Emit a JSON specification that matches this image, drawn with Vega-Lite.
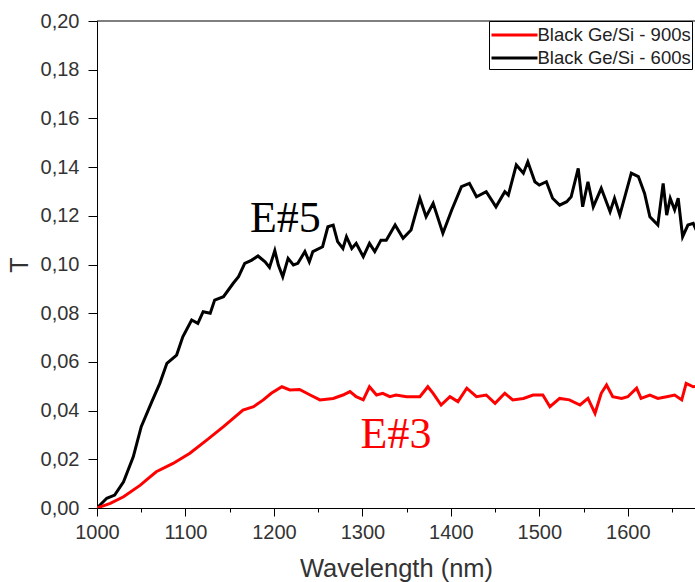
{
  "$schema": "https://vega.github.io/schema/vega-lite/v6.json",
  "width": 598,
  "height": 487,
  "autosize": {"type": "none"},
  "padding": {"left": 97, "top": 21, "right": 0, "bottom": 74},
  "background": "white",
  "config": {"view": {"stroke": null}, "font": "Liberation Sans"},
  "datasets": {
    "curves": [
      {"series": "Black Ge/Si - 600s", "wl": 1000, "T": 0},
      {"series": "Black Ge/Si - 600s", "wl": 1011, "T": 0.004},
      {"series": "Black Ge/Si - 600s", "wl": 1020, "T": 0.0053},
      {"series": "Black Ge/Si - 600s", "wl": 1030, "T": 0.0108},
      {"series": "Black Ge/Si - 600s", "wl": 1041, "T": 0.021},
      {"series": "Black Ge/Si - 600s", "wl": 1050, "T": 0.0334},
      {"series": "Black Ge/Si - 600s", "wl": 1062, "T": 0.0437},
      {"series": "Black Ge/Si - 600s", "wl": 1071, "T": 0.0512},
      {"series": "Black Ge/Si - 600s", "wl": 1079, "T": 0.0594},
      {"series": "Black Ge/Si - 600s", "wl": 1090, "T": 0.0628},
      {"series": "Black Ge/Si - 600s", "wl": 1097, "T": 0.0703},
      {"series": "Black Ge/Si - 600s", "wl": 1107, "T": 0.0772},
      {"series": "Black Ge/Si - 600s", "wl": 1114, "T": 0.0758},
      {"series": "Black Ge/Si - 600s", "wl": 1120, "T": 0.0806},
      {"series": "Black Ge/Si - 600s", "wl": 1128, "T": 0.08},
      {"series": "Black Ge/Si - 600s", "wl": 1133, "T": 0.0854},
      {"series": "Black Ge/Si - 600s", "wl": 1143, "T": 0.0868},
      {"series": "Black Ge/Si - 600s", "wl": 1154, "T": 0.0923},
      {"series": "Black Ge/Si - 600s", "wl": 1160, "T": 0.095},
      {"series": "Black Ge/Si - 600s", "wl": 1167, "T": 0.1005},
      {"series": "Black Ge/Si - 600s", "wl": 1175, "T": 0.1018},
      {"series": "Black Ge/Si - 600s", "wl": 1182, "T": 0.1035},
      {"series": "Black Ge/Si - 600s", "wl": 1190, "T": 0.1011},
      {"series": "Black Ge/Si - 600s", "wl": 1195, "T": 0.0988},
      {"series": "Black Ge/Si - 600s", "wl": 1201, "T": 0.1057},
      {"series": "Black Ge/Si - 600s", "wl": 1205, "T": 0.0998},
      {"series": "Black Ge/Si - 600s", "wl": 1210, "T": 0.095},
      {"series": "Black Ge/Si - 600s", "wl": 1216, "T": 0.1025},
      {"series": "Black Ge/Si - 600s", "wl": 1222, "T": 0.0998},
      {"series": "Black Ge/Si - 600s", "wl": 1227, "T": 0.1005},
      {"series": "Black Ge/Si - 600s", "wl": 1235, "T": 0.1053},
      {"series": "Black Ge/Si - 600s", "wl": 1240, "T": 0.1011},
      {"series": "Black Ge/Si - 600s", "wl": 1244, "T": 0.1053},
      {"series": "Black Ge/Si - 600s", "wl": 1255, "T": 0.1073},
      {"series": "Black Ge/Si - 600s", "wl": 1261, "T": 0.1155},
      {"series": "Black Ge/Si - 600s", "wl": 1267, "T": 0.1162},
      {"series": "Black Ge/Si - 600s", "wl": 1272, "T": 0.1094},
      {"series": "Black Ge/Si - 600s", "wl": 1278, "T": 0.1066},
      {"series": "Black Ge/Si - 600s", "wl": 1282, "T": 0.1114},
      {"series": "Black Ge/Si - 600s", "wl": 1288, "T": 0.1066},
      {"series": "Black Ge/Si - 600s", "wl": 1293, "T": 0.1087},
      {"series": "Black Ge/Si - 600s", "wl": 1301, "T": 0.1032},
      {"series": "Black Ge/Si - 600s", "wl": 1308, "T": 0.1087},
      {"series": "Black Ge/Si - 600s", "wl": 1314, "T": 0.1053},
      {"series": "Black Ge/Si - 600s", "wl": 1321, "T": 0.11},
      {"series": "Black Ge/Si - 600s", "wl": 1327, "T": 0.11},
      {"series": "Black Ge/Si - 600s", "wl": 1337, "T": 0.1162},
      {"series": "Black Ge/Si - 600s", "wl": 1346, "T": 0.1108},
      {"series": "Black Ge/Si - 600s", "wl": 1355, "T": 0.1142},
      {"series": "Black Ge/Si - 600s", "wl": 1365, "T": 0.1272},
      {"series": "Black Ge/Si - 600s", "wl": 1372, "T": 0.1196},
      {"series": "Black Ge/Si - 600s", "wl": 1380, "T": 0.1251},
      {"series": "Black Ge/Si - 600s", "wl": 1391, "T": 0.1128},
      {"series": "Black Ge/Si - 600s", "wl": 1401, "T": 0.1224},
      {"series": "Black Ge/Si - 600s", "wl": 1412, "T": 0.132},
      {"series": "Black Ge/Si - 600s", "wl": 1421, "T": 0.1333},
      {"series": "Black Ge/Si - 600s", "wl": 1429, "T": 0.1278},
      {"series": "Black Ge/Si - 600s", "wl": 1440, "T": 0.1299},
      {"series": "Black Ge/Si - 600s", "wl": 1451, "T": 0.1237},
      {"series": "Black Ge/Si - 600s", "wl": 1461, "T": 0.1299},
      {"series": "Black Ge/Si - 600s", "wl": 1465, "T": 0.1285},
      {"series": "Black Ge/Si - 600s", "wl": 1474, "T": 0.1409},
      {"series": "Black Ge/Si - 600s", "wl": 1482, "T": 0.1375},
      {"series": "Black Ge/Si - 600s", "wl": 1487, "T": 0.1422},
      {"series": "Black Ge/Si - 600s", "wl": 1495, "T": 0.134},
      {"series": "Black Ge/Si - 600s", "wl": 1500, "T": 0.1326},
      {"series": "Black Ge/Si - 600s", "wl": 1508, "T": 0.134},
      {"series": "Black Ge/Si - 600s", "wl": 1515, "T": 0.1272},
      {"series": "Black Ge/Si - 600s", "wl": 1523, "T": 0.1244},
      {"series": "Black Ge/Si - 600s", "wl": 1531, "T": 0.1258},
      {"series": "Black Ge/Si - 600s", "wl": 1536, "T": 0.1278},
      {"series": "Black Ge/Si - 600s", "wl": 1544, "T": 0.1395},
      {"series": "Black Ge/Si - 600s", "wl": 1549, "T": 0.1237},
      {"series": "Black Ge/Si - 600s", "wl": 1555, "T": 0.134},
      {"series": "Black Ge/Si - 600s", "wl": 1561, "T": 0.1237},
      {"series": "Black Ge/Si - 600s", "wl": 1570, "T": 0.1313},
      {"series": "Black Ge/Si - 600s", "wl": 1580, "T": 0.1217},
      {"series": "Black Ge/Si - 600s", "wl": 1585, "T": 0.1272},
      {"series": "Black Ge/Si - 600s", "wl": 1591, "T": 0.1203},
      {"series": "Black Ge/Si - 600s", "wl": 1604, "T": 0.1375},
      {"series": "Black Ge/Si - 600s", "wl": 1612, "T": 0.1361},
      {"series": "Black Ge/Si - 600s", "wl": 1619, "T": 0.1292},
      {"series": "Black Ge/Si - 600s", "wl": 1625, "T": 0.1196},
      {"series": "Black Ge/Si - 600s", "wl": 1634, "T": 0.1162},
      {"series": "Black Ge/Si - 600s", "wl": 1640, "T": 0.1333},
      {"series": "Black Ge/Si - 600s", "wl": 1644, "T": 0.1203},
      {"series": "Black Ge/Si - 600s", "wl": 1648, "T": 0.1272},
      {"series": "Black Ge/Si - 600s", "wl": 1653, "T": 0.1224},
      {"series": "Black Ge/Si - 600s", "wl": 1657, "T": 0.1272},
      {"series": "Black Ge/Si - 600s", "wl": 1662, "T": 0.1114},
      {"series": "Black Ge/Si - 600s", "wl": 1668, "T": 0.1162},
      {"series": "Black Ge/Si - 600s", "wl": 1674, "T": 0.1169},
      {"series": "Black Ge/Si - 600s", "wl": 1680, "T": 0.112},
      {"series": "Black Ge/Si - 900s", "wl": 1000, "T": 0},
      {"series": "Black Ge/Si - 900s", "wl": 1015, "T": 0.0019},
      {"series": "Black Ge/Si - 900s", "wl": 1030, "T": 0.0046},
      {"series": "Black Ge/Si - 900s", "wl": 1049, "T": 0.0094},
      {"series": "Black Ge/Si - 900s", "wl": 1058, "T": 0.0122},
      {"series": "Black Ge/Si - 900s", "wl": 1067, "T": 0.0149},
      {"series": "Black Ge/Si - 900s", "wl": 1086, "T": 0.0183},
      {"series": "Black Ge/Si - 900s", "wl": 1105, "T": 0.0225},
      {"series": "Black Ge/Si - 900s", "wl": 1124, "T": 0.0279},
      {"series": "Black Ge/Si - 900s", "wl": 1143, "T": 0.0334},
      {"series": "Black Ge/Si - 900s", "wl": 1154, "T": 0.0368},
      {"series": "Black Ge/Si - 900s", "wl": 1165, "T": 0.0402},
      {"series": "Black Ge/Si - 900s", "wl": 1177, "T": 0.0416},
      {"series": "Black Ge/Si - 900s", "wl": 1188, "T": 0.0444},
      {"series": "Black Ge/Si - 900s", "wl": 1197, "T": 0.0471},
      {"series": "Black Ge/Si - 900s", "wl": 1209, "T": 0.0498},
      {"series": "Black Ge/Si - 900s", "wl": 1218, "T": 0.0485},
      {"series": "Black Ge/Si - 900s", "wl": 1229, "T": 0.0487},
      {"series": "Black Ge/Si - 900s", "wl": 1241, "T": 0.0464},
      {"series": "Black Ge/Si - 900s", "wl": 1252, "T": 0.0444},
      {"series": "Black Ge/Si - 900s", "wl": 1267, "T": 0.045},
      {"series": "Black Ge/Si - 900s", "wl": 1278, "T": 0.0464},
      {"series": "Black Ge/Si - 900s", "wl": 1286, "T": 0.0478},
      {"series": "Black Ge/Si - 900s", "wl": 1293, "T": 0.0457},
      {"series": "Black Ge/Si - 900s", "wl": 1301, "T": 0.0444},
      {"series": "Black Ge/Si - 900s", "wl": 1308, "T": 0.0498},
      {"series": "Black Ge/Si - 900s", "wl": 1316, "T": 0.0464},
      {"series": "Black Ge/Si - 900s", "wl": 1323, "T": 0.0471},
      {"series": "Black Ge/Si - 900s", "wl": 1331, "T": 0.0457},
      {"series": "Black Ge/Si - 900s", "wl": 1338, "T": 0.0464},
      {"series": "Black Ge/Si - 900s", "wl": 1350, "T": 0.0457},
      {"series": "Black Ge/Si - 900s", "wl": 1365, "T": 0.0457},
      {"series": "Black Ge/Si - 900s", "wl": 1374, "T": 0.0498},
      {"series": "Black Ge/Si - 900s", "wl": 1380, "T": 0.0471},
      {"series": "Black Ge/Si - 900s", "wl": 1389, "T": 0.0423},
      {"series": "Black Ge/Si - 900s", "wl": 1399, "T": 0.0457},
      {"series": "Black Ge/Si - 900s", "wl": 1408, "T": 0.0437},
      {"series": "Black Ge/Si - 900s", "wl": 1418, "T": 0.0492},
      {"series": "Black Ge/Si - 900s", "wl": 1429, "T": 0.0457},
      {"series": "Black Ge/Si - 900s", "wl": 1440, "T": 0.0464},
      {"series": "Black Ge/Si - 900s", "wl": 1450, "T": 0.043},
      {"series": "Black Ge/Si - 900s", "wl": 1461, "T": 0.0471},
      {"series": "Black Ge/Si - 900s", "wl": 1470, "T": 0.0444},
      {"series": "Black Ge/Si - 900s", "wl": 1482, "T": 0.045},
      {"series": "Black Ge/Si - 900s", "wl": 1493, "T": 0.0464},
      {"series": "Black Ge/Si - 900s", "wl": 1504, "T": 0.0464},
      {"series": "Black Ge/Si - 900s", "wl": 1512, "T": 0.0416},
      {"series": "Black Ge/Si - 900s", "wl": 1523, "T": 0.045},
      {"series": "Black Ge/Si - 900s", "wl": 1534, "T": 0.0444},
      {"series": "Black Ge/Si - 900s", "wl": 1546, "T": 0.0423},
      {"series": "Black Ge/Si - 900s", "wl": 1555, "T": 0.045},
      {"series": "Black Ge/Si - 900s", "wl": 1563, "T": 0.0389},
      {"series": "Black Ge/Si - 900s", "wl": 1570, "T": 0.0471},
      {"series": "Black Ge/Si - 900s", "wl": 1576, "T": 0.0505},
      {"series": "Black Ge/Si - 900s", "wl": 1583, "T": 0.0457},
      {"series": "Black Ge/Si - 900s", "wl": 1593, "T": 0.045},
      {"series": "Black Ge/Si - 900s", "wl": 1600, "T": 0.0457},
      {"series": "Black Ge/Si - 900s", "wl": 1610, "T": 0.0492},
      {"series": "Black Ge/Si - 900s", "wl": 1615, "T": 0.045},
      {"series": "Black Ge/Si - 900s", "wl": 1625, "T": 0.0464},
      {"series": "Black Ge/Si - 900s", "wl": 1634, "T": 0.045},
      {"series": "Black Ge/Si - 900s", "wl": 1644, "T": 0.0457},
      {"series": "Black Ge/Si - 900s", "wl": 1653, "T": 0.0464},
      {"series": "Black Ge/Si - 900s", "wl": 1661, "T": 0.0444},
      {"series": "Black Ge/Si - 900s", "wl": 1666, "T": 0.0512},
      {"series": "Black Ge/Si - 900s", "wl": 1674, "T": 0.0498},
      {"series": "Black Ge/Si - 900s", "wl": 1680, "T": 0.05}
    ],
    "annots": [
      {"label": "E#5", "wl": 1213, "T": 0.1187},
      {"label": "E#3", "wl": 1338, "T": 0.030}
    ]
  },
  "layer": [
    {
      "data": {"values": [{}]},
      "mark": {"type": "rule", "color": "black", "strokeWidth": 1},
      "encoding": {"y": {"datum": 0.2, "type": "quantitative", "title": "T"}}
    },
    {
      "data": {"name": "curves"},
      "mark": {"type": "line", "strokeWidth": 3, "clip": true, "interpolate": "linear"},
      "encoding": {
        "x": {
          "field": "wl", "type": "quantitative", "title": "Wavelength (nm)",
          "scale": {"domain": [1000, 1676], "nice": false, "zero": false},
          "axis": {
            "values": [1000, 1050, 1100, 1150, 1200, 1250, 1300, 1350, 1400, 1450, 1500, 1550, 1600, 1650],
            "format": "d",
            "labelExpr": "datum.value % 100 === 0 ? datum.label : ''",
            "labelFlush": false, "labelOverlap": false, "labelBound": false,
            "tickSize": {"condition": {"test": "datum.value % 100 === 0", "value": 8}, "value": 4},
            "grid": false,
            "domainColor": "black", "tickColor": "black", "tickWidth": 1, "domainWidth": 1,
            "labelColor": "#333", "labelFontSize": 20, "labelPadding": 6,
            "titleFontSize": 25.5, "titleFontWeight": "normal", "titleColor": "#333", "titlePadding": 14
          }
        },
        "y": {
          "field": "T", "type": "quantitative", "title": "T",
          "scale": {"domain": [0, 0.2], "nice": false},
          "axis": {
            "values": [0, 0.01, 0.02, 0.03, 0.04, 0.05, 0.06, 0.07, 0.08, 0.09, 0.1, 0.11, 0.12, 0.13, 0.14, 0.15, 0.16, 0.17, 0.18, 0.19, 0.2],
            "labelExpr": "round(datum.value * 100) % 2 === 0 ? replace(format(datum.value, '.2f'), '.', ',') : ''",
            "labelOverlap": false, "labelBound": false, "labelFlush": false,
            "tickSize": {"condition": {"test": "round(datum.value * 100) % 2 === 0", "value": 9}, "value": 4},
            "grid": false,
            "domainColor": "black", "tickColor": "black", "tickWidth": 1, "domainWidth": 1,
            "labelColor": "#333", "labelFontSize": 20, "labelPadding": 9,
            "titleFontSize": 25, "titleFontWeight": "normal", "titleColor": "#333", "titlePadding": 8
          }
        },
        "color": {
          "field": "series", "type": "nominal",
          "scale": {"domain": ["Black Ge/Si - 900s", "Black Ge/Si - 600s"], "range": ["#ff0000", "#000000"]},
          "legend": {
            "orient": "none", "legendX": 392, "legendY": 0, "title": null,
            "symbolType": "M-1,0H3", "symbolSize": 529, "symbolStrokeWidth": 3,
            "labelFontSize": 18.5, "labelColor": "#222", "labelOffset": 21.5,
            "strokeColor": "black", "fillColor": "white", "padding": 1, "rowPadding": 0
          }
        }
      }
    },
    {
      "data": {"name": "annots"},
      "transform": [{"filter": "datum.label === 'E#5'"}],
      "mark": {"type": "text", "font": "Liberation Serif", "fontSize": 44, "color": "black", "align": "center", "baseline": "middle"},
      "encoding": {
        "x": {"field": "wl", "type": "quantitative", "title": "Wavelength (nm)"},
        "y": {"field": "T", "type": "quantitative", "title": "T"},
        "text": {"field": "label"}
      }
    },
    {
      "data": {"name": "annots"},
      "transform": [{"filter": "datum.label === 'E#3'"}],
      "mark": {"type": "text", "font": "Liberation Serif", "fontSize": 44, "color": "#ff0000", "align": "center", "baseline": "middle"},
      "encoding": {
        "x": {"field": "wl", "type": "quantitative", "title": "Wavelength (nm)"},
        "y": {"field": "T", "type": "quantitative", "title": "T"},
        "text": {"field": "label"}
      }
    }
  ]
}
